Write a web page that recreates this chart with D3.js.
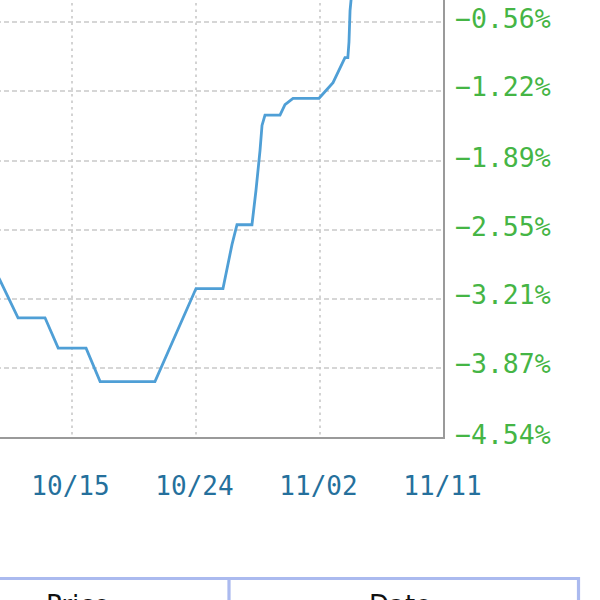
<!DOCTYPE html>
<html>
<head>
<meta charset="utf-8">
<script src="https://cdn.jsdelivr.net/npm/d3@7"></script>
<style>
  html, body { margin: 0; padding: 0; background: #fff; overflow: hidden; }
  svg { display: block; }
</style>
</head>
<body>
<svg id="chart" width="600" height="600"></svg>
<script>
// ---- data ----
const dates = [
  "2018-10-09T01:00", "2018-10-09T18:30", "2018-10-11T02:00", "2018-10-13T01:00",
  "2018-10-14T00:00", "2018-10-16T00:30", "2018-10-17T01:00", "2018-10-21T00:30",
  "2018-10-24T00:00", "2018-10-25T23:00", "2018-10-26T14:40", "2018-10-26T23:25",
  "2018-10-28T01:30", "2018-10-28T08:30", "2018-10-28T15:30", "2018-10-28T19:00",
  "2018-10-29T00:10", "2018-10-30T02:20", "2018-10-30T11:00", "2018-10-31T01:00",
  "2018-11-01T22:20", "2018-11-02T22:40", "2018-11-03T19:30", "2018-11-04T00:30",
  "2018-11-04T02:30", "2018-11-04T04:20", "2018-11-04T09:25", "2018-11-04T14:30"
];
const values = [
  -2.84, -3.03, -3.39, -3.39,
  -3.68, -3.68, -4.00, -4.00,
  -3.11, -3.11, -2.69, -2.50,
  -2.50, -2.17, -1.79, -1.55,
  -1.45, -1.45, -1.35, -1.29,
  -1.29, -1.14, -0.90, -0.90,
  -0.75, -0.45, -0.16, 0.22
];
const xTickLabels = ["10/15", "10/24", "11/02", "11/11"];
const xTickDates = ["2018-10-15", "2018-10-24", "2018-11-02", "2018-11-11"];
const xGridExtraDates = ["2018-10-06"];
const yTickValues = [-4.54, -3.87, -3.21, -2.55, -1.89, -1.22, -0.56];
const yGridExtraValues = [0.11];
const tableHeaders = ["Price", "Date"];

// ---- layout ----
const svg = d3.select("#chart");
const parse = d3.timeParse("%Y-%m-%dT%H:%M");
const parseDay = d3.timeParse("%Y-%m-%d");
const data = dates.map((d, i) => ({ date: parse(d), value: values[i] }));
const tickDates = xTickDates.map(parseDay);
const gridDates = xGridExtraDates.map(parseDay).concat(tickDates.slice(0, -1));
const gridValues = yTickValues.concat(yGridExtraValues);

const plotRight = 444, plotBottom = 438;
const x = d3.scaleTime()
  .domain([parseDay("2018-10-15"), parseDay("2018-11-11")])
  .range([72, plotRight]);
const y = d3.scaleLinear()
  .domain([-4.54, -0.56])
  .range([plotBottom, 22]);

const plotLeft = x(parseDay("2018-10-06")) - 40;
const plotTop = y(0.11) - 40;

svg.append("defs").append("clipPath").attr("id", "plotclip")
  .append("rect").attr("x", plotLeft).attr("y", plotTop)
  .attr("width", plotRight - plotLeft).attr("height", plotBottom - plotTop);

// grid: horizontal
svg.append("g").selectAll("line").data(gridValues).join("line")
  .attr("x1", plotLeft).attr("x2", plotRight)
  .attr("y1", d => y(d)).attr("y2", d => y(d))
  .attr("stroke", "#c9c9c9").attr("stroke-width", 1.6)
  .attr("stroke-dasharray", "5,3");

// grid: vertical
svg.append("g").selectAll("line").data(gridDates).join("line")
  .attr("x1", d => x(d)).attr("x2", d => x(d))
  .attr("y1", plotTop).attr("y2", plotBottom)
  .attr("stroke", "#c9c9c9").attr("stroke-width", 1.6)
  .attr("stroke-dasharray", "2.5,4");

// data line
const line = d3.line().x(d => x(d.date)).y(d => y(d.value));
svg.append("path").datum(data)
  .attr("clip-path", "url(#plotclip)")
  .attr("d", line)
  .attr("fill", "none")
  .attr("stroke", "#4f9fd6")
  .attr("stroke-width", 2.8)
  .attr("stroke-linejoin", "miter");

// plot border (right and bottom visible)
svg.append("path")
  .attr("d", `M${plotRight},${plotTop}V${plotBottom}H${plotLeft}`)
  .attr("fill", "none").attr("stroke", "#9a9a9a").attr("stroke-width", 2);

// y labels (right side)
const monoFont = "'DejaVu Sans Mono', 'Liberation Mono', monospace";
svg.append("g").selectAll("text").data(yTickValues).join("text")
  .attr("x", 455).attr("y", d => y(d) - 4)
  .attr("dominant-baseline", "central")
  .attr("font-family", monoFont).attr("font-size", 26.5)
  .attr("fill", "#45b545")
  .text(d => d3.format(".2f")(d) + "%");

// x labels
svg.append("g").selectAll("text").data(tickDates).join("text")
  .attr("x", d => x(d) - 1.5).attr("y", 486)
  .attr("text-anchor", "middle").attr("dominant-baseline", "central")
  .attr("font-family", monoFont).attr("font-size", 26)
  .attr("fill", "#25709c")
  .text((d, i) => xTickLabels[i]);

// table header (partly visible)
const tbl = svg.append("g");
const tblTop = 578.5, divX = 229, tblRight = 578.5;
tbl.append("path")
  .attr("d", `M-5,${tblTop}H${tblRight}V620M${divX},${tblTop}V620`)
  .attr("fill", "none").attr("stroke", "#abbaef").attr("stroke-width", 3.2);
tbl.selectAll("text").data(tableHeaders).join("text")
  .attr("x", (d, i) => i === 0 ? 46 : 369)
  .attr("y", 614)
  .attr("font-family", "'DejaVu Sans', Arial, sans-serif")
  .attr("font-size", 26)
  .attr("fill", "#111")
  .text(d => d);
</script>
</body>
</html>
